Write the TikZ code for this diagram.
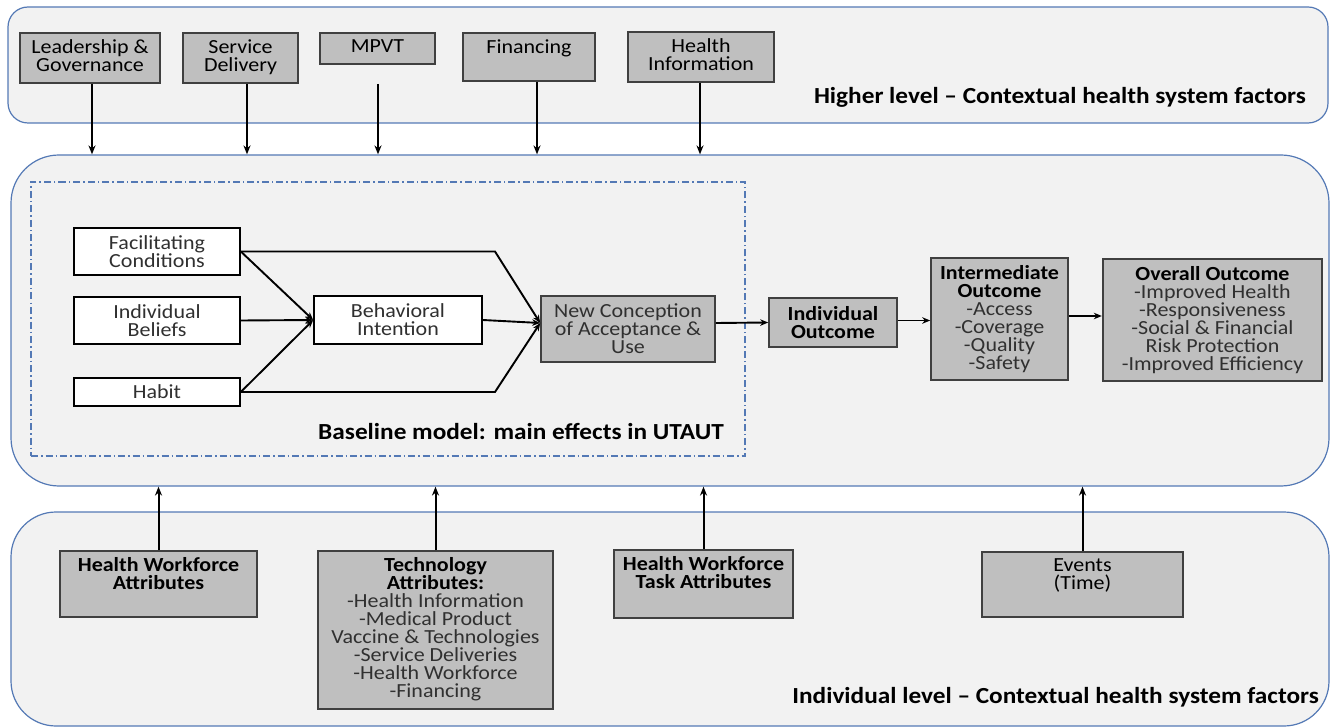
\documentclass[tikz,border=0pt]{standalone}
\usepackage{fontspec}
\setmainfont{Carlito}[FakeStretch=1.1]
\usetikzlibrary{arrows.meta,calc}
\definecolor{panelfill}{HTML}{F2F2F2}
\definecolor{panelline}{HTML}{5479B5}
\definecolor{boxfill}{HTML}{BFBFBF}
\definecolor{boxline}{HTML}{404040}
\definecolor{txtgray}{HTML}{303030}
\newcommand\myfs{\fontsize{20}{18}\selectfont}
\newcommand\mytitle{\fontsize{23}{23}\selectfont\bfseries}
\tikzset{
  panel/.style={draw=panelline, fill=panelfill, line width=1.2pt, inner sep=0pt},
  gbox/.style={draw=boxline, fill=boxfill, line width=1.6pt, inner sep=0pt, align=center, font=\myfs, text=txtgray},
  wbox/.style={draw=black, fill=white, line width=1.6pt, inner sep=0pt, align=center, font=\myfs, text=txtgray},
  lbl/.style={anchor=north, inner sep=0pt, align=center, font=\myfs, yshift=-7pt},
  ttl/.style={anchor=east, inner sep=0pt, font=\mytitle, text=black},
  arr/.style={-{Stealth[length=9pt,width=7pt]}, line width=2pt, black},
  farr/.style={-{Stealth[length=8pt,width=6.5pt]}, line width=1.9pt, black},
}
\begin{document}
\begin{tikzpicture}[x=1pt,y=-1pt]
\useasboundingbox (0,0) rectangle (1331,727);
% panels
\node[panel, rounded corners=20pt, minimum width=1320pt, minimum height=116pt] (toppanel) at (668,65) {};
\node[panel, rounded corners=48pt, minimum width=1318pt, minimum height=331pt] (mid) at (670,320.5) {};
\node[panel, rounded corners=45pt, minimum width=1318pt, minimum height=214pt] (bot) at (670,619) {};
\node[draw=panelline, line width=1.1pt, dash pattern=on 7pt off 3pt on 1.5pt off 3pt, minimum width=714pt, minimum height=274pt, inner sep=0pt] (base) at (388,319) {};

% titles
\node[ttl] (toptitle) at (1306,97) {Higher level – Contextual health system factors};
\node[ttl] (basetitle) at (724,432) {Baseline model: main effects in UTAUT};
\node[ttl] (bottitle) at (1319,697) {Individual level – Contextual health system factors};

% top boxes
\node[gbox, minimum width=140pt, minimum height=50pt] (lg) at (90,58) {};
\node[lbl, text=black] (lgt) at (lg.north) {Leadership \&\\Governance};
\node[gbox, minimum width=115pt, minimum height=50pt] (sd) at (240.5,58) {};
\node[lbl, text=black] (sdt) at (sd.north) {Service\\Delivery};
\node[gbox, minimum width=115pt, minimum height=31pt] (mp) at (377.5,48.5) {};
\node[lbl, text=black] (mpt) at (mp.north) {MPVT};
\node[gbox, minimum width=132pt, minimum height=48pt] (fi) at (529,57) {};
\node[lbl, text=black] (fit) at (fi.north) {Financing};
\node[gbox, minimum width=146pt, minimum height=50pt] (hi) at (701,57) {};
\node[lbl, text=black] (hit) at (hi.north) {Health\\Information};

% top arrows
\draw[arr] ([xshift=2pt]lg.south) -- ([xshift=2pt]lg.south |- mid.north);
\draw[arr] ([xshift=6.5pt]sd.south) -- ([xshift=6.5pt]sd.south |- mid.north);
\draw[arr] ([xshift=0.5pt]mp.south) ++(0,19) -- ([xshift=0.5pt]mp.south |- mid.north);
\draw[arr] ([xshift=8pt]fi.south) -- ([xshift=8pt]fi.south |- mid.north);
\draw[arr] ([xshift=-1pt]hi.south) -- ([xshift=-1pt]hi.south |- mid.north);

% middle boxes
\node[wbox, minimum width=166pt, minimum height=47pt] (fc) at (157,251.5) {Facilitating\\Conditions};
\node[wbox, minimum width=166pt, minimum height=47pt] (ib) at (157,320.5) {Individual\\Beliefs};
\node[wbox, minimum width=166pt, minimum height=28pt] (hb) at (157,392) {Habit};
\node[wbox, minimum width=168pt, minimum height=48pt] (bi) at (398,320) {Behavioral\\Intention};
\node[gbox, minimum width=174pt, minimum height=66pt] (nc) at (628,329) {New Conception\\of Acceptance \&\\Use};
\node[gbox, minimum width=128pt, minimum height=49pt, text=black, font=\myfs\bfseries] (io) at (833,322.5) {Individual\\Outcome};
\node[gbox, minimum width=137pt, minimum height=122pt] (im) at (999.5,319) {{\color{black}\bfseries Intermediate}\\{\color{black}\bfseries Outcome}\\-Access\\-Coverage\\-Quality\\-Safety};
\node[gbox, minimum width=219pt, minimum height=122pt, line width=2.4pt] (ov) at (1212.5,320) {{\color{black}\bfseries Overall Outcome}\\-Improved Health\\-Responsiveness\\-Social \& Financial\\Risk Protection\\-Improved Efficiency};

% middle connectors
\coordinate (bend) at (495,0);
\draw[farr] (fc.east) -- (bi.west);
\draw[farr] (ib.east) -- (bi.west);
\draw[farr] (hb.east) -- (bi.west);
\draw[farr] (fc.east) -- (fc.east -| bend) -- ([yshift=6pt]nc.west);
\draw[farr] (hb.east) -- (hb.east -| bend) -- ([yshift=6pt]nc.west);
\draw[farr] (bi.east) -- ([yshift=6pt]nc.west);
\draw[farr] ([yshift=6pt]nc.east) -- (io.west);
\draw[farr] ([yshift=2pt]io.east) -- ([yshift=2pt]io.east -| im.west);
\draw[farr] ([yshift=3pt]im.east) -- ([yshift=3pt]im.east -| ov.west);

% bottom boxes
\node[gbox, minimum width=197pt, minimum height=66pt] (hw) at (158.5,584) {};
\node[lbl, font=\myfs\bfseries, text=black] (hwt) at (hw.north) {Health Workforce\\Attributes};
\node[gbox, minimum width=235pt, minimum height=158pt] (te) at (435.5,630) {};
\node[lbl, text=txtgray] (tet) at (te.north) {{\color{black}\bfseries Technology}\\{\color{black}\bfseries Attributes:}\\-Health Information\\-Medical Product\\Vaccine \& Technologies\\-Service Deliveries\\-Health Workforce\\-Financing};
\node[gbox, minimum width=179pt, minimum height=68pt] (ht) at (703.5,584) {};
\node[lbl, font=\myfs\bfseries, text=black] (htt) at (ht.north) {Health Workforce\\Task Attributes};
\node[gbox, minimum width=201pt, minimum height=65pt] (ev) at (1082.5,584.5) {};
\node[lbl, text=black] (evt) at (ev.north) {Events\\(Time)};

% bottom arrows
\draw[arr] (hw.north) -- (hw.north |- mid.south);
\draw[arr] (te.north) -- (te.north |- mid.south);
\draw[arr] (ht.north) -- (ht.north |- mid.south);
\draw[arr] (ev.north) -- (ev.north |- mid.south);
\end{tikzpicture}
\end{document}
